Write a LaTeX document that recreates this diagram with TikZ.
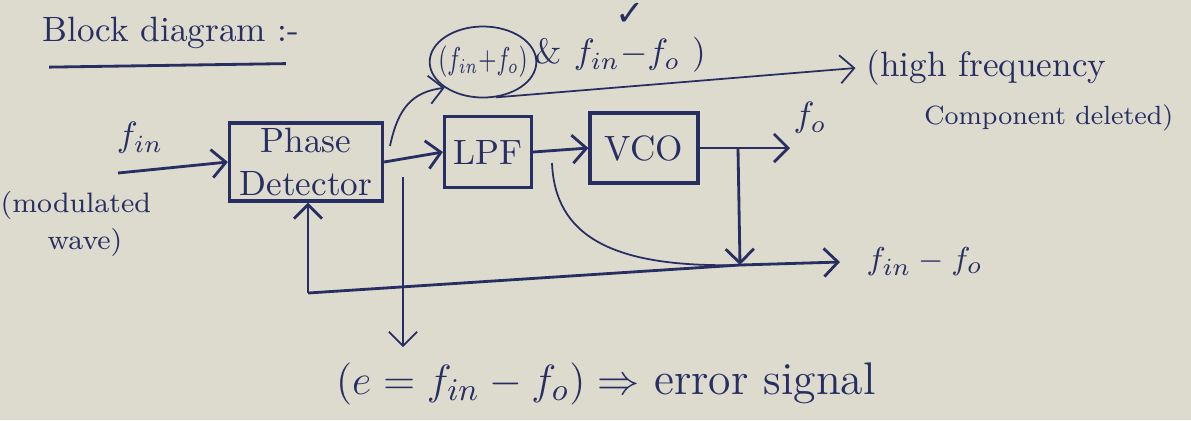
\documentclass[tikz,border=0pt]{standalone}
\usepackage{fontspec}
\usetikzlibrary{arrows.meta,shapes.geometric}
\newfontfamily\symfont{DejaVu Sans}
\definecolor{ink}{RGB}{40,46,98}
\definecolor{paper}{RGB}{221,218,206}
\begin{document}
\begin{tikzpicture}[x=0.01cm,y=-0.01cm,
  inkline/.style={draw=ink,line width=0.8pt},
  thinline/.style={draw=ink,line width=0.5pt},
  arr/.style={inkline,-{Straight Barb[length=4pt,width=8pt]}},
  thinarr/.style={thinline,-{Straight Barb[length=4pt,width=8pt]}},
  blockbox/.style={draw=ink,line width=0.9pt,text=ink,align=center,inner sep=0pt,font=\fontsize{10}{12}\selectfont},
  lbl/.style={text=ink,inner sep=0pt,align=center,font=\fontsize{10}{12}\selectfont}]
\fill[paper] (0,0) rectangle (1191,420);
\useasboundingbox (0,0) rectangle (1191,420);
% title
\node[lbl,anchor=west] (title) at (42,33) {Block diagram :-};
\draw[inkline] ([yshift=-5pt,xshift=2pt]title.south west) -- ([yshift=-4pt,xshift=-4pt]title.south east);
% blocks
\node[blockbox,minimum width=1.53cm,minimum height=0.78cm] (pd) at (306,162) {Phase\\Detector};
\node[blockbox,minimum width=0.87cm,minimum height=0.71cm] (lpf) at (488,152) {LPF};
\node[blockbox,minimum width=1.08cm,minimum height=0.70cm] (vco) at (644,148) {VCO};
% labels
\node[lbl] (fin) at (140,138) {$f_{in}$};
\node[lbl,anchor=west,font=\fontsize{8}{10}\selectfont] (mod1) at (0,205) {(modulated};
\node[lbl,font=\fontsize{8}{10}\selectfont] (mod2) at (85,242) {wave)};
\node[lbl,draw=ink,ellipse,line width=0.5pt,inner xsep=-2pt,inner ysep=1pt,minimum width=0.80cm,minimum height=0.71cm,font=\fontsize{9}{10}\selectfont] (sum) at (483,62) {\scalebox{0.72}[1]{$(f_{in}{+}f_o)$}};
\node[lbl,anchor=west] (rest) at (534,55) {\& $f_{in}{-}f_o$ )};
\node[lbl,font=\symfont\fontsize{10}{12}\selectfont] (chk) at (630,14) {✓};
\node[lbl,anchor=west] (hf1) at (866,68) {(high frequency};
\node[lbl,anchor=east,font=\fontsize{7.5}{9}\selectfont] (hf2) at (1174,118) {Component deleted)};
\node[lbl] (fo) at (810,118) {$f_o$};
\node[lbl,anchor=west,font=\fontsize{9.5}{11}\selectfont] (diff) at (866,262) {$f_{in}-f_o$};
\node[lbl,font=\fontsize{13}{15}\selectfont] (err) at (606,384) {$(e = f_{in}-f_o) \Rightarrow$ error signal};
% coordinates
\coordinate (inS) at (118,173);
\coordinate (foE) at (790,148);
\coordinate (tap) at (738,148);
\coordinate (j) at (740,265);
\coordinate (outE) at (840,262);
\coordinate (fb) at (308,293);
\coordinate (eTop) at (403,177);
\coordinate (eBot) at (403,347);
\coordinate (cStart) at (552,163);
\coordinate (pdTap) at (390,146);
% connectors
\draw[arr] (inS) -- (pd.west);
\draw[arr] (pd.east) -- (lpf.west);
\draw[arr] (lpf.east) -- (vco.west);
\draw[arr] (vco.east) -- (foE);
\draw[arr] (tap) -- (j);
\draw[inkline] (fb) -- (j);
\draw[arr] (j) -- (outE);
\draw[arr] (fb) -- (fb |- pd.south);
\draw[thinarr] (eTop) -- (eBot);
\draw[thinline] (cStart) .. controls (555,235) and (610,268) .. (j);
\draw[thinarr] (pdTap) .. controls (398,108) and (412,92) .. (sum.south west);
\draw[thinarr] (sum.-70) -- ([xshift=-3pt]hf1.west);
\end{tikzpicture}
\end{document}
